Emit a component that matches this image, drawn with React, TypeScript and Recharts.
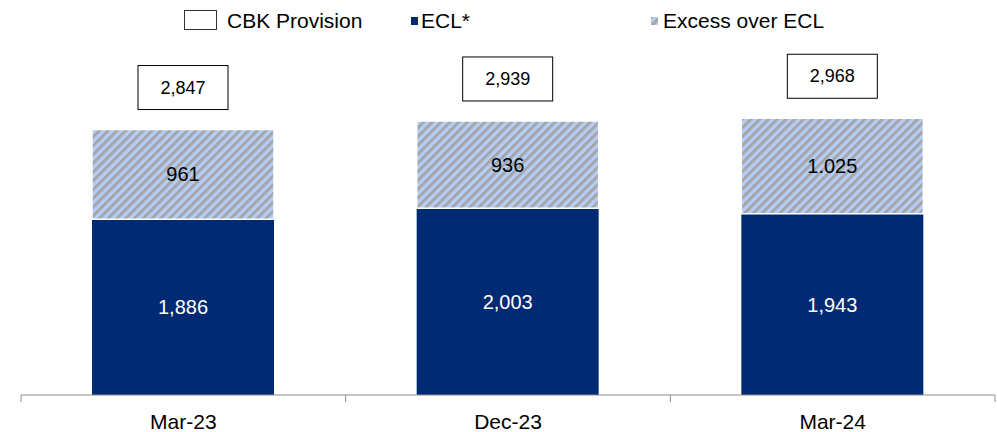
import React from 'react';
import { BarChart, Bar, XAxis, YAxis, Legend, LabelList } from 'recharts';

const categories = ['Mar-23', 'Dec-23', 'Mar-24'];
const ecl = [1886, 2003, 1943];
const excess = [961, 936, 1025];
const excessLabels = ['961', '936', '1.025'];
const cbkProvision = [2847, 2939, 2968];

const NAVY = '#002b72';
const FONT = '"Liberation Sans", Arial, sans-serif';

const chartData = categories.map((name, i) => ({
  name,
  ecl: ecl[i],
  excess: excess[i],
  excessLabel: excessLabels[i],
  total: cbkProvision[i],
}));

const fmt = (v: number) => v.toLocaleString('en-US');

const HatchDefs = () => (
  <defs>
    <pattern id="hatch" patternUnits="userSpaceOnUse" width="6.2" height="6.2" patternTransform="rotate(45)">
      <rect width="6.2" height="6.2" fill="#b3cefa" />
      <rect width="3" height="6.2" fill="#a6a6a6" />
    </pattern>
  </defs>
);

const CategoryTick = (props: any) => {
  const { x, y, payload, index } = props;
  const half = 974 / 3 / 2;
  return (
    <g>
      <line x1={x - half} y1={y - 8} x2={x - half} y2={y - 1} stroke="#8c8c8c" />
      {index === categories.length - 1 && (
        <line x1={x + half} y1={y - 8} x2={x + half} y2={y - 1} stroke="#8c8c8c" />
      )}
      <text x={x} y={y + 26} textAnchor="middle" fontSize={21} fontFamily={FONT} fill="#000">
        {payload.value}
      </text>
    </g>
  );
};

const TotalBox = (props: any) => {
  const { x, y, width, value } = props;
  const cx = x + width / 2;
  const cy = y - 42;
  return (
    <g>
      <rect x={cx - 45} y={cy - 22} width={90} height={44} fill="#fff" stroke="#000" strokeWidth={1} />
      <text x={cx} y={cy} textAnchor="middle" dominantBaseline="central" fontSize={18} fontFamily={FONT} fill="#000">
        {fmt(value)}
      </text>
    </g>
  );
};

const LegendContent = () => (
  <svg width={997} height={40} style={{ display: 'block' }}>
    <HatchDefs />
    <rect x={184.5} y={10.5} width={32} height={19} fill="#fff" stroke="#333" />
    <text x={227} y={28} fontSize={21} fontFamily={FONT}>CBK Provision</text>
    <rect x={411} y={17} width={7} height={8} fill={NAVY} />
    <text x={421} y={28} fontSize={21} fontFamily={FONT}>ECL*</text>
    <rect x={651} y={17} width={7} height={8} fill="url(#hatch)" />
    <text x={663} y={28} fontSize={21} fontFamily={FONT}>Excess over ECL</text>
  </svg>
);

export default function App() {
  return (
    <div style={{ position: 'absolute', left: 0, top: 0, background: '#fff' }}>
      <BarChart
        width={997}
        height={432}
        data={chartData}
        margin={{ top: 50, right: 2, bottom: 0, left: 21 }}
        barCategoryGap={0}
      >
        <HatchDefs />
        <Legend
          layout="vertical"
          align="center"
          verticalAlign="middle"
          content={<LegendContent />}
          wrapperStyle={{ top: 0, left: 0, width: 997 }}
        />
        <XAxis
          dataKey="name"
          height={37}
          axisLine={{ stroke: '#8c8c8c' }}
          tickLine={false}
          tick={<CategoryTick />}
          interval={0}
        />
        <YAxis hide domain={[0, 3700]} />
        <Bar dataKey="ecl" stackId="a" fill={NAVY} barSize={182} isAnimationActive={false}>
          <LabelList
            dataKey="ecl"
            position="center"
            formatter={(v: any) => fmt(Number(v))}
            fill="#fff"
            fontSize={20}
            fontFamily={FONT}
          />
        </Bar>
        <Bar
          dataKey="excess"
          stackId="a"
          fill="url(#hatch)"
          stroke="#fff"
          strokeWidth={1.5}
          barSize={182}
          isAnimationActive={false}
        >
          <LabelList dataKey="excessLabel" position="center" fill="#000" fontSize={20} fontFamily={FONT} />
          <LabelList dataKey="total" content={<TotalBox />} />
        </Bar>
      </BarChart>
    </div>
  );
}
